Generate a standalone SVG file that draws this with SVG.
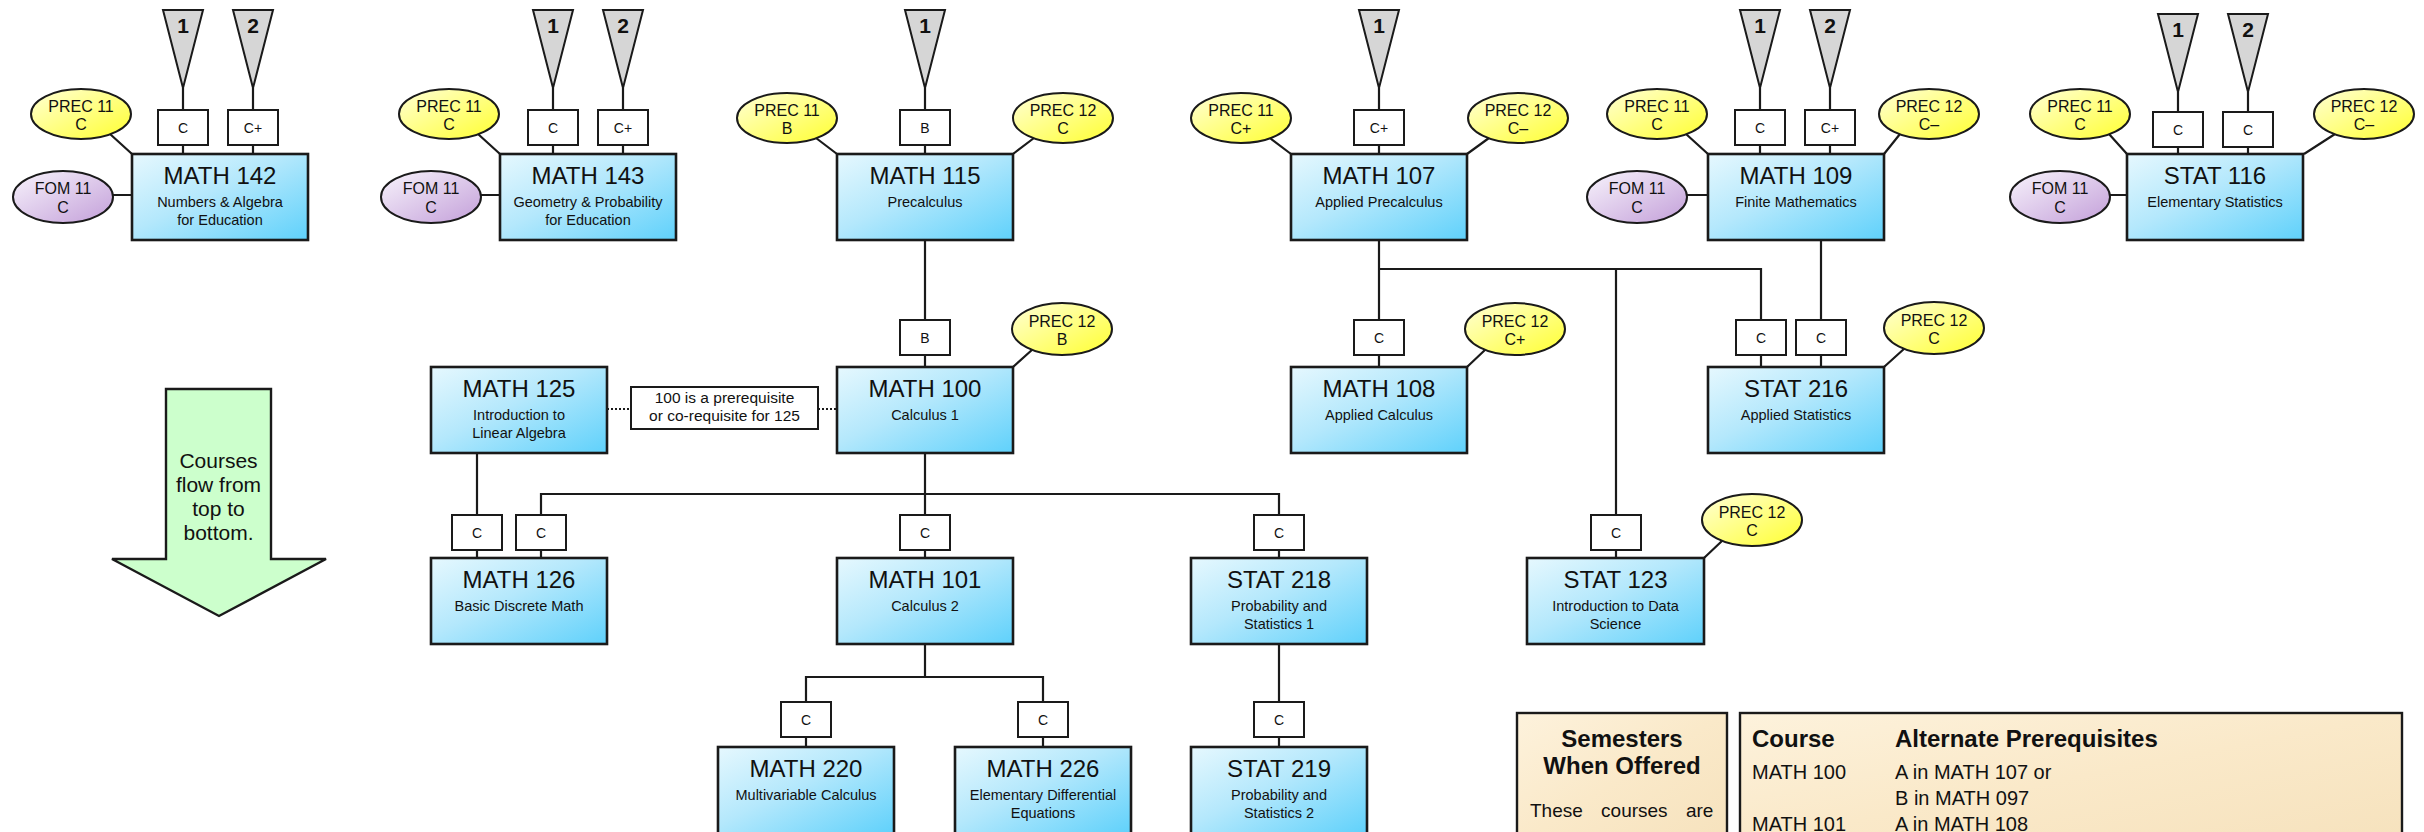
<svg xmlns="http://www.w3.org/2000/svg" width="2424" height="832" viewBox="0 0 2424 832">
<defs>
<linearGradient id="gBox" x1="0" y1="0" x2="1" y2="1">
<stop offset="0" stop-color="#e6f8fe"/><stop offset="0.45" stop-color="#b4e8fc"/><stop offset="1" stop-color="#5fd1fb"/>
</linearGradient>
<linearGradient id="gYel" x1="0" y1="0" x2="1" y2="1">
<stop offset="0" stop-color="#ffffd6"/><stop offset="1" stop-color="#ffff30"/>
</linearGradient>
<linearGradient id="gPur" x1="0" y1="0" x2="1" y2="1">
<stop offset="0" stop-color="#f8f4fc"/><stop offset="1" stop-color="#c39fd9"/>
</linearGradient>
<linearGradient id="gPaper" x1="0" y1="0" x2="1" y2="1">
<stop offset="0" stop-color="#fdf2dc"/><stop offset="0.5" stop-color="#fae9c9"/><stop offset="1" stop-color="#f6e2bd"/>
</linearGradient>
<style>
text{font-family:"Liberation Sans",Arial,sans-serif;fill:#111}
.box{fill:url(#gBox);stroke:#1a1a1a;stroke-width:2.6}
.t{font-size:24px;text-anchor:middle}
.s{font-size:14.5px;text-anchor:middle}
.yel{fill:url(#gYel);stroke:#1a1a1a;stroke-width:2}
.pur{fill:url(#gPur);stroke:#1a1a1a;stroke-width:2}
.et{font-size:16px;text-anchor:middle}
.tri{fill:#d6d6d6;stroke:#1a1a1a;stroke-width:2}
.tn{font-size:21px;font-weight:bold;text-anchor:middle}
.g{fill:#fff;stroke:#1a1a1a;stroke-width:2}
.gt{font-size:14px;text-anchor:middle}
.ln{stroke:#1a1a1a;stroke-width:2.2;fill:none}
.dot{stroke:#1a1a1a;stroke-width:2;stroke-dasharray:2 2;fill:none}
.paper{fill:url(#gPaper);stroke:#1a1a1a;stroke-width:2.4}
.hb{font-size:24px;font-weight:bold}
.tb{font-size:20px}
</style>
</defs>
<rect width="2424" height="832" fill="#fff"/>

<!-- connectors -->
<g id="connectors">
<path class="ln" d="M183 88V110M183 145V154M253 88V110M253 145V154"/>
<path class="ln" d="M553 88V110M553 145V154M623 88V110M623 145V154"/>
<path class="ln" d="M925 88V110M925 145V154"/>
<path class="ln" d="M1379 88V110M1379 145V154"/>
<path class="ln" d="M1760 88V110M1760 145V154M1830 88V110M1830 145V154"/>
<path class="ln" d="M2178 92V112M2178 147V154M2248 92V112M2248 147V154"/>
<path class="ln" d="M110 134L132 154M113 195H132"/>
<path class="ln" d="M478 134L500 154M481 195H500"/>
<path class="ln" d="M816 138L837 154M1034 138L1013 154"/>
<path class="ln" d="M1270 138L1291 154M1489 138L1467 154"/>
<path class="ln" d="M1686 134L1708 154M1900 134L1884 154M1687 195H1708"/>
<path class="ln" d="M2109 134L2127 154M2335 134L2304 154M2110 195H2127"/>
<path class="ln" d="M925 240V320M925 355V367"/>
<path class="ln" d="M1379 240V320M1379 355V367M1379 269H1761V320M1761 355V367M1616 269V515M1616 550V558"/>
<path class="ln" d="M1821 240V320M1821 355V367"/>
<path class="ln" d="M1033 349L1013 367M1486 349L1467 367M1905 348L1884 367M1723 540L1704 558"/>
<path class="ln" d="M477 453V515M477 550V558"/>
<path class="ln" d="M925 453V515M925 550V558M541 515V494H1279V515M541 550V558M1279 550V558"/>
<path class="ln" d="M925 644V677M806 702V677H1043V702M806 737V747M1043 737V747"/>
<path class="ln" d="M1279 644V702M1279 737V747"/>
<path class="dot" d="M607 409H631M818 409H837"/>
<g id="grades">
<rect class="g" x="158" y="110" width="50" height="35"/><text class="gt" x="183" y="133">C</text>
<rect class="g" x="228" y="110" width="50" height="35"/><text class="gt" x="253" y="133">C+</text>
<rect class="g" x="528" y="110" width="50" height="35"/><text class="gt" x="553" y="133">C</text>
<rect class="g" x="598" y="110" width="50" height="35"/><text class="gt" x="623" y="133">C+</text>
<rect class="g" x="900" y="110" width="50" height="35"/><text class="gt" x="925" y="133">B</text>
<rect class="g" x="1354" y="110" width="50" height="35"/><text class="gt" x="1379" y="133">C+</text>
<rect class="g" x="1735" y="110" width="50" height="35"/><text class="gt" x="1760" y="133">C</text>
<rect class="g" x="1805" y="110" width="50" height="35"/><text class="gt" x="1830" y="133">C+</text>
<rect class="g" x="2153" y="112" width="50" height="35"/><text class="gt" x="2178" y="135">C</text>
<rect class="g" x="2223" y="112" width="50" height="35"/><text class="gt" x="2248" y="135">C</text>
<rect class="g" x="900" y="320" width="50" height="35"/><text class="gt" x="925" y="343">B</text>
<rect class="g" x="1354" y="320" width="50" height="35"/><text class="gt" x="1379" y="343">C</text>
<rect class="g" x="1736" y="320" width="50" height="35"/><text class="gt" x="1761" y="343">C</text>
<rect class="g" x="1796" y="320" width="50" height="35"/><text class="gt" x="1821" y="343">C</text>
<rect class="g" x="452" y="515" width="50" height="35"/><text class="gt" x="477" y="538">C</text>
<rect class="g" x="516" y="515" width="50" height="35"/><text class="gt" x="541" y="538">C</text>
<rect class="g" x="900" y="515" width="50" height="35"/><text class="gt" x="925" y="538">C</text>
<rect class="g" x="1254" y="515" width="50" height="35"/><text class="gt" x="1279" y="538">C</text>
<rect class="g" x="1591" y="515" width="50" height="35"/><text class="gt" x="1616" y="538">C</text>
<rect class="g" x="781" y="702" width="50" height="35"/><text class="gt" x="806" y="725">C</text>
<rect class="g" x="1018" y="702" width="50" height="35"/><text class="gt" x="1043" y="725">C</text>
<rect class="g" x="1254" y="702" width="50" height="35"/><text class="gt" x="1279" y="725">C</text>
</g>
</g>

<g id="tri-142"><polygon class="tri" points="163,10 203,10 183,88"/><text class="tn" x="183" y="33">1</text><polygon class="tri" points="233,10 273,10 253,88"/><text class="tn" x="253" y="33">2</text></g>
<g id="tri-143"><polygon class="tri" points="533,10 573,10 553,88"/><text class="tn" x="553" y="33">1</text><polygon class="tri" points="603,10 643,10 623,88"/><text class="tn" x="623" y="33">2</text></g>
<g id="tri-115"><polygon class="tri" points="905,10 945,10 925,88"/><text class="tn" x="925" y="33">1</text></g>
<g id="tri-107"><polygon class="tri" points="1359,10 1399,10 1379,88"/><text class="tn" x="1379" y="33">1</text></g>
<g id="tri-109"><polygon class="tri" points="1740,10 1780,10 1760,88"/><text class="tn" x="1760" y="33">1</text><polygon class="tri" points="1810,10 1850,10 1830,88"/><text class="tn" x="1830" y="33">2</text></g>
<g id="tri-116"><polygon class="tri" points="2158,14 2198,14 2178,92"/><text class="tn" x="2178" y="37">1</text><polygon class="tri" points="2228,14 2268,14 2248,92"/><text class="tn" x="2248" y="37">2</text></g>

<g id="e-142-prec11"><ellipse class="yel" cx="81" cy="114" rx="50" ry="25"/><text class="et" x="81" y="112">PREC 11</text><text class="et" x="81" y="130">C</text></g>
<g id="e-142-fom11"><ellipse class="pur" cx="63" cy="197" rx="50" ry="26"/><text class="et" x="63" y="194">FOM 11</text><text class="et" x="63" y="213">C</text></g>
<g id="e-143-prec11"><ellipse class="yel" cx="449" cy="114" rx="50" ry="25"/><text class="et" x="449" y="112">PREC 11</text><text class="et" x="449" y="130">C</text></g>
<g id="e-143-fom11"><ellipse class="pur" cx="431" cy="197" rx="50" ry="26"/><text class="et" x="431" y="194">FOM 11</text><text class="et" x="431" y="213">C</text></g>
<g id="e-115-prec11"><ellipse class="yel" cx="787" cy="118" rx="50" ry="25"/><text class="et" x="787" y="116">PREC 11</text><text class="et" x="787" y="134">B</text></g>
<g id="e-115-prec12"><ellipse class="yel" cx="1063" cy="118" rx="50" ry="25"/><text class="et" x="1063" y="116">PREC 12</text><text class="et" x="1063" y="134">C</text></g>
<g id="e-107-prec11"><ellipse class="yel" cx="1241" cy="118" rx="50" ry="25"/><text class="et" x="1241" y="116">PREC 11</text><text class="et" x="1241" y="134">C+</text></g>
<g id="e-107-prec12"><ellipse class="yel" cx="1518" cy="118" rx="50" ry="25"/><text class="et" x="1518" y="116">PREC 12</text><text class="et" x="1518" y="134">C–</text></g>
<g id="e-109-prec11"><ellipse class="yel" cx="1657" cy="114" rx="50" ry="25"/><text class="et" x="1657" y="112">PREC 11</text><text class="et" x="1657" y="130">C</text></g>
<g id="e-109-prec12"><ellipse class="yel" cx="1929" cy="114" rx="50" ry="25"/><text class="et" x="1929" y="112">PREC 12</text><text class="et" x="1929" y="130">C–</text></g>
<g id="e-109-fom11"><ellipse class="pur" cx="1637" cy="197" rx="50" ry="26"/><text class="et" x="1637" y="194">FOM 11</text><text class="et" x="1637" y="213">C</text></g>
<g id="e-116-prec11"><ellipse class="yel" cx="2080" cy="114" rx="50" ry="25"/><text class="et" x="2080" y="112">PREC 11</text><text class="et" x="2080" y="130">C</text></g>
<g id="e-116-prec12"><ellipse class="yel" cx="2364" cy="114" rx="50" ry="25"/><text class="et" x="2364" y="112">PREC 12</text><text class="et" x="2364" y="130">C–</text></g>
<g id="e-116-fom11"><ellipse class="pur" cx="2060" cy="197" rx="50" ry="26"/><text class="et" x="2060" y="194">FOM 11</text><text class="et" x="2060" y="213">C</text></g>
<g id="e-100-prec12"><ellipse class="yel" cx="1062" cy="329" rx="50" ry="26"/><text class="et" x="1062" y="327">PREC 12</text><text class="et" x="1062" y="345">B</text></g>
<g id="e-108-prec12"><ellipse class="yel" cx="1515" cy="329" rx="50" ry="26"/><text class="et" x="1515" y="327">PREC 12</text><text class="et" x="1515" y="345">C+</text></g>
<g id="e-216-prec12"><ellipse class="yel" cx="1934" cy="328" rx="50" ry="26"/><text class="et" x="1934" y="326">PREC 12</text><text class="et" x="1934" y="344">C</text></g>
<g id="e-123-prec12"><ellipse class="yel" cx="1752" cy="520" rx="50" ry="26"/><text class="et" x="1752" y="518">PREC 12</text><text class="et" x="1752" y="536">C</text></g>

<g id="math142"><rect class="box" x="132" y="154" width="176" height="86"/><text class="t" x="220" y="184">MATH 142</text><text class="s" x="220" y="207">Numbers &amp; Algebra</text><text class="s" x="220" y="225">for Education</text></g>
<g id="math143"><rect class="box" x="500" y="154" width="176" height="86"/><text class="t" x="588" y="184">MATH 143</text><text class="s" x="588" y="207">Geometry &amp; Probability</text><text class="s" x="588" y="225">for Education</text></g>
<g id="math115"><rect class="box" x="837" y="154" width="176" height="86"/><text class="t" x="925" y="184">MATH 115</text><text class="s" x="925" y="207">Precalculus</text></g>
<g id="math107"><rect class="box" x="1291" y="154" width="176" height="86"/><text class="t" x="1379" y="184">MATH 107</text><text class="s" x="1379" y="207">Applied Precalculus</text></g>
<g id="math109"><rect class="box" x="1708" y="154" width="176" height="86"/><text class="t" x="1796" y="184">MATH 109</text><text class="s" x="1796" y="207">Finite Mathematics</text></g>
<g id="stat116"><rect class="box" x="2127" y="154" width="176" height="86"/><text class="t" x="2215" y="184">STAT 116</text><text class="s" x="2215" y="207">Elementary Statistics</text></g>

<g id="math125"><rect class="box" x="431" y="367" width="176" height="86"/><text class="t" x="519" y="397">MATH 125</text><text class="s" x="519" y="420">Introduction to</text><text class="s" x="519" y="438">Linear Algebra</text></g>
<g id="note"><rect class="g" x="631" y="387" width="187" height="42"/><text class="s" style="font-size:15.5px" x="724.5" y="403">100 is a prerequisite</text><text class="s" style="font-size:15.5px" x="724.5" y="421">or co-requisite for 125</text></g>
<g id="math100"><rect class="box" x="837" y="367" width="176" height="86"/><text class="t" x="925" y="397">MATH 100</text><text class="s" x="925" y="420">Calculus 1</text></g>
<g id="math108"><rect class="box" x="1291" y="367" width="176" height="86"/><text class="t" x="1379" y="397">MATH 108</text><text class="s" x="1379" y="420">Applied Calculus</text></g>
<g id="stat216"><rect class="box" x="1708" y="367" width="176" height="86"/><text class="t" x="1796" y="397">STAT 216</text><text class="s" x="1796" y="420">Applied Statistics</text></g>

<g id="math126"><rect class="box" x="431" y="558" width="176" height="86"/><text class="t" x="519" y="588">MATH 126</text><text class="s" x="519" y="611">Basic Discrete Math</text></g>
<g id="math101"><rect class="box" x="837" y="558" width="176" height="86"/><text class="t" x="925" y="588">MATH 101</text><text class="s" x="925" y="611">Calculus 2</text></g>
<g id="stat218"><rect class="box" x="1191" y="558" width="176" height="86"/><text class="t" x="1279" y="588">STAT 218</text><text class="s" x="1279" y="611">Probability and</text><text class="s" x="1279" y="629">Statistics 1</text></g>
<g id="stat123"><rect class="box" x="1527" y="558" width="177" height="86"/><text class="t" x="1615.5" y="588">STAT 123</text><text class="s" x="1615.5" y="611">Introduction to Data</text><text class="s" x="1615.5" y="629">Science</text></g>

<g id="math220"><rect class="box" x="718" y="747" width="176" height="87"/><text class="t" x="806" y="777">MATH 220</text><text class="s" x="806" y="800">Multivariable Calculus</text></g>
<g id="math226"><rect class="box" x="955" y="747" width="176" height="87"/><text class="t" x="1043" y="777">MATH 226</text><text class="s" x="1043" y="800">Elementary Differential</text><text class="s" x="1043" y="818">Equations</text></g>
<g id="stat219"><rect class="box" x="1191" y="747" width="176" height="87"/><text class="t" x="1279" y="777">STAT 219</text><text class="s" x="1279" y="800">Probability and</text><text class="s" x="1279" y="818">Statistics 2</text></g>

<g id="flow-arrow"><polygon points="166,389 271,389 271,559 326,559 219,616 112,559 166,559" fill="#ccffcc" stroke="#1a1a1a" stroke-width="2.4"/>
<text class="t" style="font-size:21px" x="218.5" y="468">Courses</text><text class="t" style="font-size:21px" x="218.5" y="492">flow from</text><text class="t" style="font-size:21px" x="218.5" y="516">top to</text><text class="t" style="font-size:21px" x="218.5" y="540">bottom.</text></g>

<g id="semesters"><rect class="paper" x="1517" y="713" width="210" height="130"/>
<text class="hb" x="1622" y="747" text-anchor="middle">Semesters</text><text class="hb" x="1622" y="774" text-anchor="middle">When Offered</text>
<text style="font-size:19px;word-spacing:13px" x="1530" y="817">These courses are</text></g>
<g id="alt-prereq"><rect class="paper" x="1740" y="713" width="662" height="130"/>
<text class="hb" x="1752" y="747">Course</text><text class="hb" x="1895" y="747">Alternate Prerequisites</text>
<text class="tb" x="1752" y="779">MATH 100</text><text class="tb" x="1895" y="779">A in MATH 107 or</text>
<text class="tb" x="1895" y="805">B in MATH 097</text>
<text class="tb" x="1752" y="831">MATH 101</text><text class="tb" x="1895" y="831">A in MATH 108</text></g>
</svg>
